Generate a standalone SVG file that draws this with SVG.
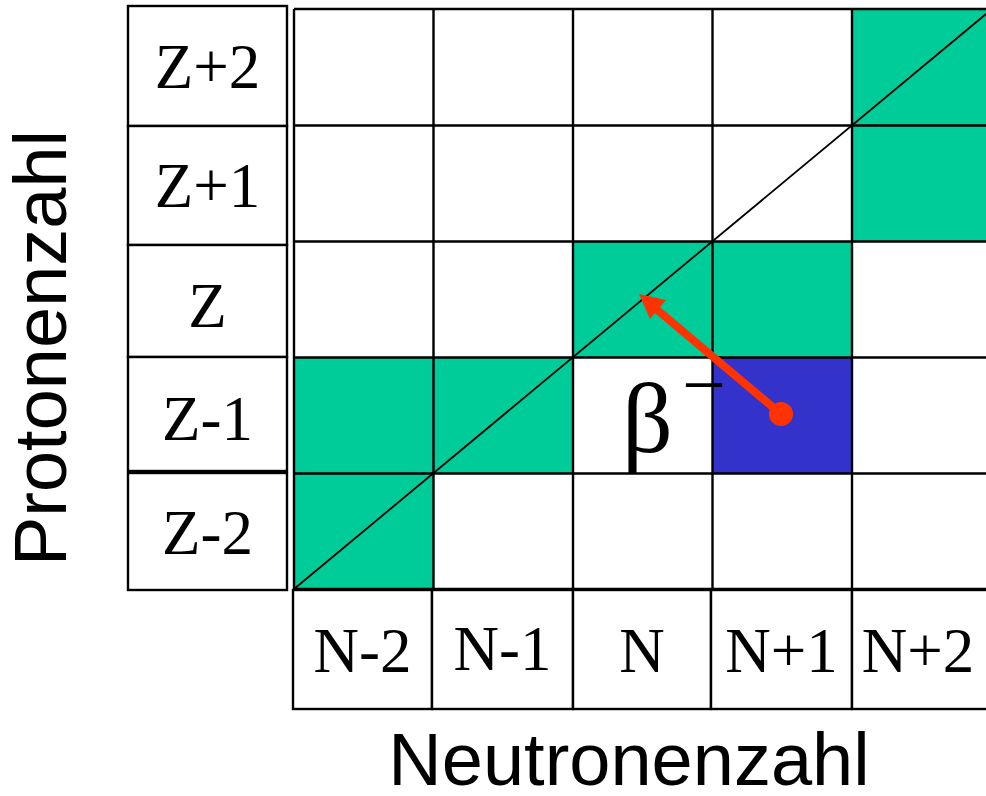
<svg xmlns="http://www.w3.org/2000/svg" width="986" height="796" viewBox="0 0 986 796">
<style>
.cell{fill:#ffffff;stroke:#000;stroke-width:2.4}
.g{fill:#00CC99}
.b{fill:#3333CC}
.lbl{font-family:"Liberation Serif","Times New Roman",serif;font-size:63px;fill:#000;text-anchor:middle}
.axis{font-family:"Liberation Sans",Arial,sans-serif;font-size:74px;fill:#000;text-anchor:middle}
.grid{stroke:#000;stroke-width:2.4;fill:none}
</style>
<rect width="986" height="796" fill="#fff"/>
<g id="cells">
<rect class="g" x="852" y="9" width="140" height="116.5"/>
<rect class="g" x="852" y="125.5" width="140" height="116"/>
<rect class="g" x="573" y="241.5" width="139.5" height="116"/>
<rect class="g" x="712.5" y="241.5" width="139.5" height="116"/>
<rect class="g" x="294" y="357.5" width="139.5" height="116"/>
<rect class="g" x="433.5" y="357.5" width="139.5" height="116"/>
<rect class="g" x="294" y="473.5" width="139.5" height="115.5"/>
<rect class="b" x="712.5" y="357.5" width="139.5" height="116"/>
</g>
<g id="grid" class="grid">
<path d="M294 9H992M294 125.5H992M294 241.5H992M294 357.5H992M294 473.5H992M294 589H992"/>
<path d="M294 9V589M433.5 9V589M573 9V589M712.5 9V589M852 9V589"/>
<path d="M294 589L992 9" stroke-width="1.8"/>
</g>
<g id="z-labels">
<g id="z+2"><rect class="cell" x="128" y="6" width="159" height="120"/><text class="lbl" x="207.5" y="88">Z+2</text></g>
<g id="z+1"><rect class="cell" x="128" y="126" width="159" height="119"/><text class="lbl" x="207.5" y="207">Z+1</text></g>
<g id="z"><rect class="cell" x="128" y="245" width="159" height="112"/><text class="lbl" x="207.5" y="327">Z</text></g>
<g id="z-1"><rect class="cell" x="128" y="357" width="159" height="114"/><text class="lbl" x="207.5" y="440">Z-1</text></g>
<g id="z-2"><rect class="cell" x="128" y="473" width="159" height="117"/><text class="lbl" x="207.5" y="554">Z-2</text></g>
</g>
<g id="n-labels">
<g id="n-2"><rect class="cell" x="293" y="590" width="139" height="119"/><text class="lbl" x="362.5" y="672">N-2</text></g>
<g id="n-1"><rect class="cell" x="432" y="590" width="141" height="119"/><text class="lbl" x="502.5" y="670">N-1</text></g>
<g id="n"><rect class="cell" x="573" y="590" width="138" height="119"/><text class="lbl" x="642" y="672">N</text></g>
<g id="n+1"><rect class="cell" x="711" y="590" width="141" height="119"/><text class="lbl" x="781.5" y="672">N+1</text></g>
<g id="n+2"><rect class="cell" x="852" y="590" width="140" height="119"/><text class="lbl" x="918" y="672">N+2</text></g>
</g>
<g id="beta-label">
<text font-family="'Liberation Serif','Times New Roman',serif" font-size="100" x="622" y="452" fill="#000">β</text>
<text font-family="'Liberation Serif','Times New Roman',serif" font-size="78" x="682" y="411" fill="#000">−</text>
</g>
<g id="connectors">
<line x1="781" y1="414" x2="655" y2="308" stroke="#FF3300" stroke-width="8"/>
<polygon points="639,294 666,300 650,319" fill="#FF3300"/>
<circle cx="781" cy="414" r="12" fill="#FF3300"/>
</g>
<text class="axis" x="629" y="785">Neutronenzahl</text>
<text class="axis" transform="translate(66,348) rotate(-90)">Protonenzahl</text>
</svg>
